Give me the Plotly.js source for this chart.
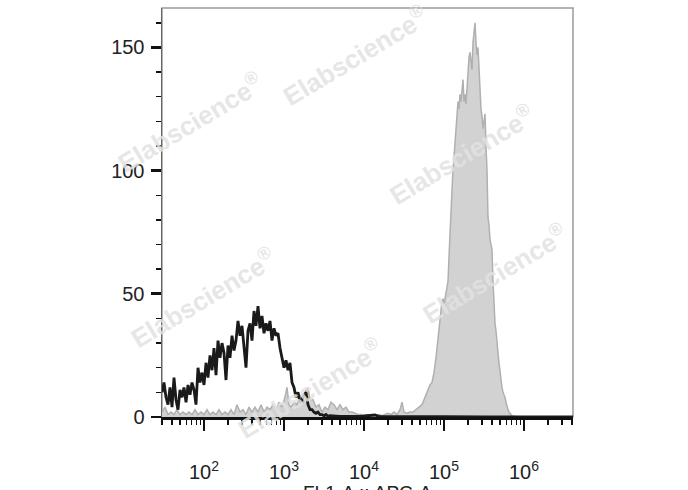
<!DOCTYPE html>
<html>
<head>
<meta charset="utf-8">
<script src="https://cdn.plot.ly/plotly-3.0.1.min.js"></script>
<style>html,body{margin:0;padding:0;background:#fff;}#chart{width:688px;height:490px;}</style>
</head>
<body>
<div id="chart"></div>
<script>
// Control (black line) histogram: log10 of fluorescence, counts
const controlLog = [1.475,1.5,1.525,1.55,1.575,1.6,1.625,1.65,1.675,1.7,1.725,1.75,1.775,1.8,1.825,1.85,1.875,1.9,1.925,1.95,1.975,2.0,2.025,2.05,2.075,2.1,2.125,2.15,2.175,2.2,2.225,2.25,2.275,2.3,2.325,2.35,2.375,2.4,2.425,2.45,2.475,2.5,2.525,2.55,2.575,2.6,2.625,2.65,2.675,2.7,2.725,2.75,2.775,2.8,2.825,2.85,2.875,2.9,2.925,2.95,2.975,3.0,3.025,3.05,3.075,3.1,3.125,3.15,3.175,3.2,3.225,3.25,3.275,3.3,3.325,3.35,3.375,3.4,3.425,3.45,3.475,3.5,3.525,3.55,3.575,3.7,3.95,4.1375,4.2,4.5,5.0,5.5,6.0,6.6125];
const controlCount = [10,14,8,5,12,4,16,7,3,11,8,12,6,13,9,14,11,5,20,14,18,13,22,16,25,19,28,17,31,24,30,26,15,29,24,33,27,31,39,33,37,27,20,35,38,31,43,37,45,36,41,34,38,35,39,31,36,33,34,28,24,20,23,19,22,14,12,8,10,6,7,9,10,5,3,3,2,1.5,2,1,1,0.5,1,0.3,0.5,0.2,0.2,0.8,0.1,0,0.1,0,0.1,0];

// Stained sample (grey filled) histogram
const stainedLog = [1.475,1.5125,1.55,1.5875,1.625,1.6625,1.7,1.7375,1.775,1.8125,1.85,1.8875,1.925,1.9625,2.0,2.0375,2.075,2.1125,2.15,2.1875,2.225,2.2625,2.3,2.3375,2.375,2.4125,2.45,2.4875,2.525,2.5625,2.6,2.6375,2.675,2.7125,2.75,2.7875,2.825,2.8625,2.9,2.9375,2.975,3.0125,
3.0375,3.0625,3.0875,3.125,3.1625,3.2,3.2375,3.275,3.3,3.325,3.3625,3.4,3.4375,3.475,3.5125,3.55,3.5875,3.625,3.6625,3.7,3.7375,3.775,3.8125,3.85,3.8875,3.925,3.9625,4.0,4.0375,4.075,4.1125,4.15,4.1875,4.225,4.2625,4.3,4.3375,4.375,4.4125,4.45,4.475,4.5,4.5375,4.575,4.6125,4.65,4.6875,4.725,4.75,4.775,4.8,4.825,4.85,4.875,4.9,
4.9125,4.925,4.9375,4.95,4.9625,4.975,4.9875,5.0,5.0125,5.025,5.0375,5.05,5.0625,5.075,5.0875,5.1,5.1125,5.125,5.1375,5.15,5.1625,5.175,5.1875,5.2,5.2125,5.225,5.2375,5.25,5.2625,5.275,5.2875,5.3,5.3125,5.325,5.3375,5.35,5.3625,5.375,5.3875,5.4,5.4125,5.425,5.4375,5.45,5.4625,5.475,5.4875,5.5,5.5125,5.525,5.5375,5.55,5.5625,5.575,5.5875,5.6,5.6125,5.625,5.6375,5.65,5.6625,5.675,5.6875,5.7,5.7125,5.725,5.7375,5.75,5.7625,5.775,5.7875,5.8,5.8125,5.825,5.8375,5.85,
5.875,5.95,6.6125];
const stainedCount = [2,4,1,2,1,3,1,2,1,2,1,3,1,2,1,3,1,2,1,3,1,2,1,3,1,5,2,3,1,4,2,4,2,5,2,4,3,5,3,6,4,8,
12,5,4,6,5,9,6,11,12,7,7,4,5,2,4,3,6,5,3,5,3,4,2,2,1.5,1,1,0.5,1,0.5,1,0.5,1,0.5,1,1.5,1,2,1,3,6,2,1.5,2,2,3,4,5,7,9,11,13,14,18,24,
28,32,36,38,44,47,48,46,48,50,52,55,65,77,85,92,100,106,109,115,123,128,125,131,128,132,137,128,131,127,135,140,146,148,143,141,152,155,160,152,147,150,140,130,125,122,117,120,123,110,100,81,78,72,69,68,55,45,38,35,29,26,22,18,14,12,10,9,8,6,4,3,2,1.5,1,0.5,
0.3,0,0];

const xTickVals = [100,1000,10000,100000,1000000];
const xTickText = ['10<sup>2</sup>','10<sup>3</sup>','10<sup>4</sup>','10<sup>5</sup>','10<sup>6</sup>'];
const yTickVals = [0,50,100,150];
const yTickText = ['0','50','100','150'];
const xTitle = 'FL1-A :: APC-A';
const watermark = 'Elabscience<sup>®</sup>';

const toLin = a => a.map(v => Math.pow(10, v));

const traces = [
  {
    x: toLin(stainedLog), y: stainedCount, type: 'scatter', mode: 'lines',
    fill: 'tozeroy', fillcolor: '#d2d2d2',
    line: {color: '#b0b0b0', width: 1.5},
    hoverinfo: 'skip', showlegend: false
  },
  {
    x: toLin(controlLog), y: controlCount, type: 'scatter', mode: 'lines',
    line: {color: '#1a1a1a', width: 2.8},
    hoverinfo: 'skip', showlegend: false
  }
];

const wmPos = [[0.470,0.885],[0.068,0.721],[0.730,0.641],[0.810,0.350],[0.100,0.293],[0.360,0.070]];
const annotations = wmPos.map(p => ({
  text: watermark, xref: 'paper', yref: 'paper', x: p[0], y: p[1],
  xanchor: 'center', yanchor: 'middle',
  showarrow: false, textangle: -31,
  font: {family: 'Liberation Sans, Arial, sans-serif', size: 26, color: 'rgba(226,226,226,0.85)', weight: 'bold'}
}));
annotations.push({
  text: xTitle, xref: 'paper', yref: 'paper', x: 0.5, y: -0.155, yanchor: 'top',
  showarrow: false,
  font: {family: 'Liberation Sans, Arial, sans-serif', size: 19, color: '#222'}
});

const layout = {
  width: 688, height: 490,
  margin: {l: 162, r: 115, t: 8, b: 73, pad: 0},
  paper_bgcolor: '#fff', plot_bgcolor: '#fff',
  showlegend: false,
  font: {family: 'Liberation Sans, Arial, sans-serif', color: '#222'},
  xaxis: {
    type: 'log', range: [1.475, 6.6125],
    tickmode: 'array', tickvals: xTickVals, ticktext: xTickText,
    ticks: 'outside', ticklen: 11, tickwidth: 2.8, tickcolor: '#111',
    minor: {dtick: 'D1', ticks: 'outside', ticklen: 5, tickwidth: 1.5, tickcolor: '#111', showgrid: false},
    showline: true, linecolor: '#111', linewidth: 3,
    showgrid: false, zeroline: false,
    ticklabelstandoff: 24,
    tickfont: {size: 20, color: '#222'}
  },
  yaxis: {
    range: [0, 166],
    tickmode: 'array', tickvals: yTickVals, ticktext: yTickText,
    ticks: 'outside', ticklen: 10, tickwidth: 2.8, tickcolor: '#111',
    minor: {dtick: 10, tick0: 0, ticks: 'outside', ticklen: 5, tickwidth: 1.5, tickcolor: '#111', showgrid: false},
    showline: true, linecolor: '#666', linewidth: 1.5,
    showgrid: false, zeroline: false,
    ticklabelstandoff: 2,
    tickfont: {size: 20, color: '#222'}
  },
  shapes: [{
    type: 'rect', xref: 'paper', yref: 'paper', x0: 0, x1: 1, y0: 0, y1: 1,
    line: {color: '#9a9a9a', width: 1.5}, layer: 'below'
  }],
  annotations: annotations
};

Plotly.newPlot('chart', traces, layout, {staticPlot: true, displayModeBar: false});
</script>
</body>
</html>
